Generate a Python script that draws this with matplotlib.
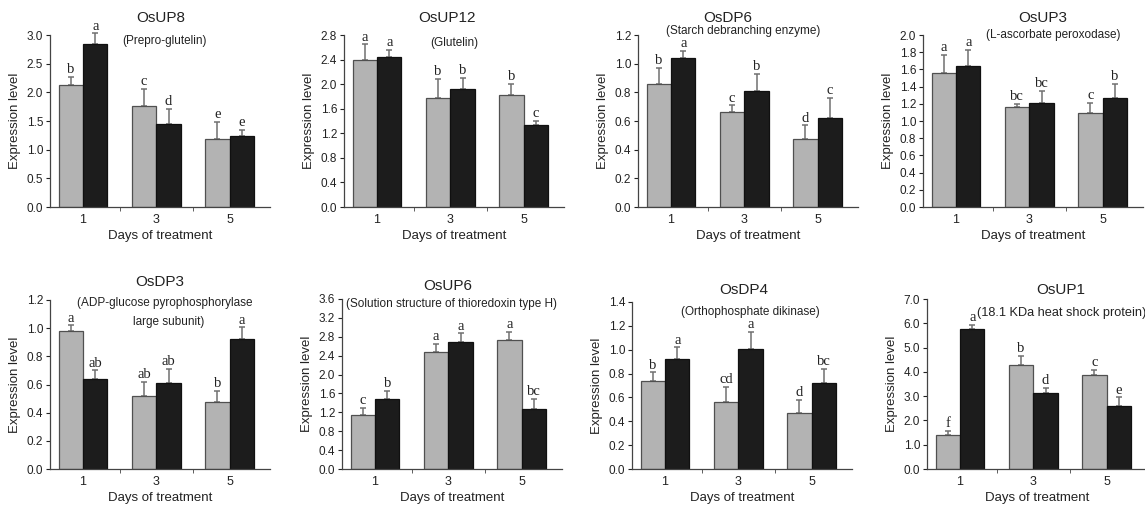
import matplotlib
matplotlib.use('Agg')
from matplotlib import pyplot as plt
import numpy as np

days = ['1', '3', '5']
genes = ['OsUP8', 'OsUP12', 'OsDP6', 'OsUP3', 'OsDP3', 'OsUP6', 'OsDP4', 'OsUP1']
proteins = ['(Prepro-glutelin)', '(Glutelin)', '(Starch debranching enzyme)',
            '(L-ascorbate peroxodase)', '(ADP-glucose pyrophosphorylase',
            '(Solution structure of thioredoxin type H)', '(Orthophosphate dikinase)',
            '(18.1 KDa heat shock protein)']
proteins_2nd_line = ['', '', '', '', 'large subunit)', '', '', '']

# control (gray) and treated (black) means with upper error
gray_vals = [[2.13, 1.77, 1.18], [2.39, 1.78, 1.82], [0.86, 0.66, 0.475], [1.56, 1.16, 1.09],
             [0.98, 0.52, 0.475], [1.15, 2.47, 2.73], [0.74, 0.56, 0.47], [1.38, 4.27, 3.87]]
gray_err = [[0.14, 0.29, 0.31], [0.26, 0.31, 0.19], [0.11, 0.05, 0.095], [0.21, 0.04, 0.12],
            [0.04, 0.10, 0.08], [0.15, 0.18, 0.17], [0.07, 0.13, 0.11], [0.20, 0.40, 0.22]]
black_vals = [[2.85, 1.45, 1.23], [2.44, 1.92, 1.33], [1.04, 0.81, 0.62], [1.64, 1.21, 1.27],
              [0.64, 0.61, 0.925], [1.49, 2.69, 1.28], [0.92, 1.01, 0.72], [5.76, 3.11, 2.59]]
black_err = [[0.18, 0.26, 0.12], [0.12, 0.18, 0.07], [0.05, 0.12, 0.14], [0.19, 0.14, 0.16],
             [0.06, 0.10, 0.08], [0.16, 0.18, 0.20], [0.10, 0.14, 0.12], [0.17, 0.23, 0.36]]
gray_letters = [['b', 'c', 'e'], ['a', 'b', 'b'], ['b', 'c', 'd'], ['a', 'bc', 'c'],
                ['a', 'ab', 'b'], ['c', 'a', 'a'], ['b', 'cd', 'd'], ['f', 'b', 'c']]
black_letters = [['a', 'd', 'e'], ['a', 'b', 'c'], ['a', 'b', 'c'], ['a', 'bc', 'b'],
                 ['ab', 'ab', 'a'], ['b', 'a', 'bc'], ['a', 'a', 'bc'], ['a', 'd', 'e']]
y_max = [3.0, 2.8, 1.2, 2.0, 1.2, 3.6, 1.4, 7.0]
y_step = [0.5, 0.4, 0.2, 0.2, 0.2, 0.4, 0.2, 1.0]

# layout (pixels): left edge of each axes, bottom and top of row
W, H = 1145, 505
lefts = [50, 344, 638, 923, 50, 342, 632, 927]
bottoms = [207, 207, 207, 207, 469, 469, 469, 469]
tops = [35, 35, 35, 35, 300, 299, 302, 299]
ax_w = 220
title_pos = [(0.505, 1.10), (0.47, 1.10), (0.41, 1.10), (0.545, 1.10),
             (0.50, 1.105), (0.48, 1.075), (0.51, 1.07), (0.61, 1.055)]
sub_pos = [(0.52, 0.965), (0.50, 0.953), (0.48, 1.025), (0.59, 1.0),
           (0.52, 0.98), (0.50, 0.97), (0.54, 0.94), (0.61, 0.92)]
sub_size = [8.5, 8.5, 8.5, 8.5, 8.5, 8.5, 8.5, 9.2]

plt.rcParams['font.family'] = ['Liberation Sans', 'DejaVu Sans']
fig = plt.figure(figsize=(W / 100, H / 100), dpi=100, facecolor='w')

x = np.arange(len(days))
bw = 0.333
for i in range(len(genes)):
    l, b, t = lefts[i], bottoms[i], tops[i]
    ax = fig.add_axes([l / W, (H - b) / H, ax_w / W, (b - t) / H])
    ax.bar(x - bw / 2, gray_vals[i], bw, color='#b3b3b3', edgecolor='#505050', linewidth=0.9, zorder=2)
    ax.bar(x + bw / 2, black_vals[i], bw, color='#1c1c1c', edgecolor='#101010', linewidth=0.9, zorder=2)
    ax.errorbar(x - bw / 2, gray_vals[i], yerr=[np.zeros(3), gray_err[i]], fmt='none',
                ecolor='#707070', elinewidth=1.1, capsize=2.5, capthick=1.1, zorder=1, clip_on=False)
    ax.errorbar(x + bw / 2, black_vals[i], yerr=[np.zeros(3), black_err[i]], fmt='none',
                ecolor='#707070', elinewidth=1.1, capsize=2.5, capthick=1.1, zorder=1, clip_on=False)
    for j in range(len(days)):
        ax.annotate(gray_letters[i][j], (x[j] - bw / 2, gray_vals[i][j] + gray_err[i][j]),
                    xytext=(0, 0.5), textcoords='offset points', ha='center', va='bottom',
                    fontsize=10.5, family='Liberation Serif', color='#222222',
                    annotation_clip=False)
        ax.annotate(black_letters[i][j], (x[j] + bw / 2, black_vals[i][j] + black_err[i][j]),
                    xytext=(0, 0.5), textcoords='offset points', ha='center', va='bottom',
                    fontsize=10.5, family='Liberation Serif', color='#222222',
                    annotation_clip=False)
    ax.set_xlim(-0.45, 2.55)
    ax.set_ylim(0, y_max[i])
    ticks = np.arange(0, y_max[i] + 1e-9, y_step[i])
    ax.set_yticks(ticks)
    ax.set_yticklabels(['%.1f' % v for v in ticks])
    ax.set_xticks(x)
    ax.set_xticklabels(days)
    ax.set_xticks([0.5, 1.5], minor=True)
    ax.tick_params(axis='x', which='major', length=0, pad=5, labelsize=9, colors='#222222')
    ax.tick_params(axis='x', which='minor', length=3, direction='out', color='#444444')
    ax.tick_params(axis='y', length=3, direction='out', labelsize=8.5, pad=2, colors='#222222')
    for s in ['top', 'right']:
        ax.spines[s].set_visible(False)
    for s in ['left', 'bottom']:
        ax.spines[s].set_color('#444444')
        ax.spines[s].set_linewidth(0.9)
    ax.set_xlabel('Days of treatment', fontsize=9.5, labelpad=3, color='#222222')
    ax.set_ylabel('Expression level', fontsize=9.5, labelpad=4, color='#222222')
    ax.text(title_pos[i][0], title_pos[i][1], genes[i], transform=ax.transAxes,
            ha='center', va='center', fontsize=11, color='#222222')
    ax.text(sub_pos[i][0], sub_pos[i][1], proteins[i], transform=ax.transAxes,
            ha='center', va='center', fontsize=sub_size[i], color='#222222')
    if proteins_2nd_line[i]:
        ax.text(sub_pos[i][0] + 0.02, sub_pos[i][1] - 0.112, proteins_2nd_line[i],
                transform=ax.transAxes, ha='center', va='center',
                fontsize=sub_size[i], color='#222222')

plt.savefig('out.png', dpi=100)
